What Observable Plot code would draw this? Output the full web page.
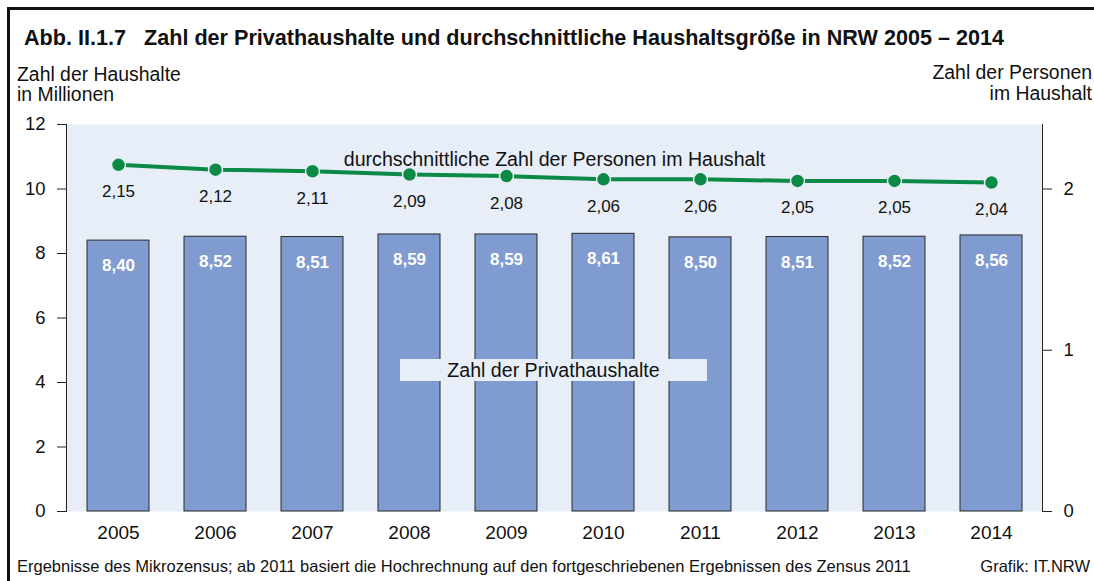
<!DOCTYPE html>
<html>
<head>
<meta charset="utf-8">
<script src="https://cdn.jsdelivr.net/npm/d3@7"></script>
<script src="https://cdn.jsdelivr.net/npm/@observablehq/plot@0.6"></script>
<style>
  html, body { margin: 0; padding: 0; background: #fff; overflow: hidden; }
  #wrap { position: relative; width: 1094px; height: 581px; font-family: Arial, "Liberation Sans", sans-serif; color: #111; }
  .abs { position: absolute; white-space: nowrap; }
  #chart { position: absolute; left: 0; top: 0; }
</style>
</head>
<body>
<div id="wrap">
  <div class="abs" style="left:7px;top:7px;width:1087px;height:3px;background:#111;"></div>
  <div class="abs" style="left:7px;top:7px;width:3px;height:574px;background:#111;"></div>
  <div id="chart"></div>
  <div class="abs" style="left:24px;top:27px;font-size:21.6px;line-height:21.6px;font-weight:bold;">Abb. II.1.7&nbsp;&nbsp;&nbsp;Zahl der Privathaushalte und durchschnittliche Haushaltsgröße in NRW 2005 – 2014</div>
  <div class="abs" style="left:17px;top:64px;font-size:19.4px;line-height:20px;">Zahl der Haushalte<br>in Millionen</div>
  <div class="abs" style="right:2px;top:62px;font-size:19.4px;line-height:21px;text-align:right;">Zahl der Personen<br>im Haushalt</div>
  <div class="abs" style="left:400px;top:359px;width:307px;height:22px;background:#E7EEF8;font-size:19.6px;line-height:22px;text-align:center;">Zahl der Privathaushalte</div>
  <div class="abs" style="left:17px;top:558px;font-size:16.5px;line-height:16px;">Ergebnisse des Mikrozensus; ab 2011 basiert die Hochrechnung auf den fortgeschriebenen Ergebnissen des Zensus 2011</div>
  <div class="abs" style="right:4px;top:558px;font-size:16.5px;line-height:16px;">Grafik: IT.NRW</div>
</div>
<script>
const years = ["2005","2006","2007","2008","2009","2010","2011","2012","2013","2014"];
const households = [8.40, 8.52, 8.51, 8.59, 8.59, 8.61, 8.50, 8.51, 8.52, 8.56];
const personsPerHousehold = [2.15, 2.12, 2.11, 2.09, 2.08, 2.06, 2.06, 2.05, 2.05, 2.04];
const leftTicks = [0, 2, 4, 6, 8, 10, 12];
const rightTicks = [0, 1, 2];
const lineLabel = "durchschnittliche Zahl der Personen im Haushalt";

const ratio = 5; // left axis 12 corresponds to right axis 2.4
const fmt = v => v.toFixed(2).replace(".", ",");
const data = years.map((y, i) => ({year: y, hh: households[i], pp: personsPerHousehold[i]}));

const bg = "#E7EEF8";
const green = "#0A8A44";

const chart = Plot.plot({
  width: 1094,
  height: 581,
  marginLeft: 66,
  marginRight: 52,
  marginTop: 124,
  marginBottom: 70,
  style: {fontFamily: 'Arial, "Liberation Sans", sans-serif', background: "transparent", color: "#111"},
  x: {type: "band", domain: years, paddingInner: 0.365, paddingOuter: 0.1825, label: null},
  y: {domain: [0, 12], label: null},
  marks: [
    Plot.frame({fill: bg, stroke: null}),
    Plot.barY(data, {x: "year", y: "hh", fill: "#7F9BD0", stroke: "#2a2a2a", strokeWidth: 1}),
    Plot.text(data, {x: "year", y: "hh", text: d => fmt(d.hh), dy: 25, fill: "white", fontWeight: "bold", fontSize: 17}),
    Plot.line(data, {x: "year", y: d => d.pp * ratio, stroke: green, strokeWidth: 4}),
    Plot.dot(data, {x: "year", y: d => d.pp * ratio, r: 7, fill: green, stroke: bg, strokeWidth: 1.5}),
    Plot.text(data, {x: "year", y: d => d.pp * ratio, text: d => fmt(d.pp), dy: 27, fontSize: 17, fill: "#111"}),
    Plot.text([lineLabel], {frameAnchor: "top", dy: 28, fontSize: 19.6, fill: "#111"}),
    Plot.frame({anchor: "left", stroke: "#222"}),
    Plot.frame({anchor: "right", stroke: "#222"}),
    Plot.axisY({anchor: "left", ticks: leftTicks, tickSize: 9, tickPadding: 12, fontSize: 18.5, label: null, stroke: "#222"}),
    Plot.axisY({anchor: "right", ticks: rightTicks.map(t => t * ratio), tickFormat: d => String(d / ratio), tickSize: 9, tickPadding: 12, fontSize: 18.5, label: null, stroke: "#222"}),
    Plot.axisX({tickSize: 0, tickPadding: 14, fontSize: 19, label: null})
  ]
});
document.getElementById("chart").appendChild(chart);
</script>
</body>
</html>
